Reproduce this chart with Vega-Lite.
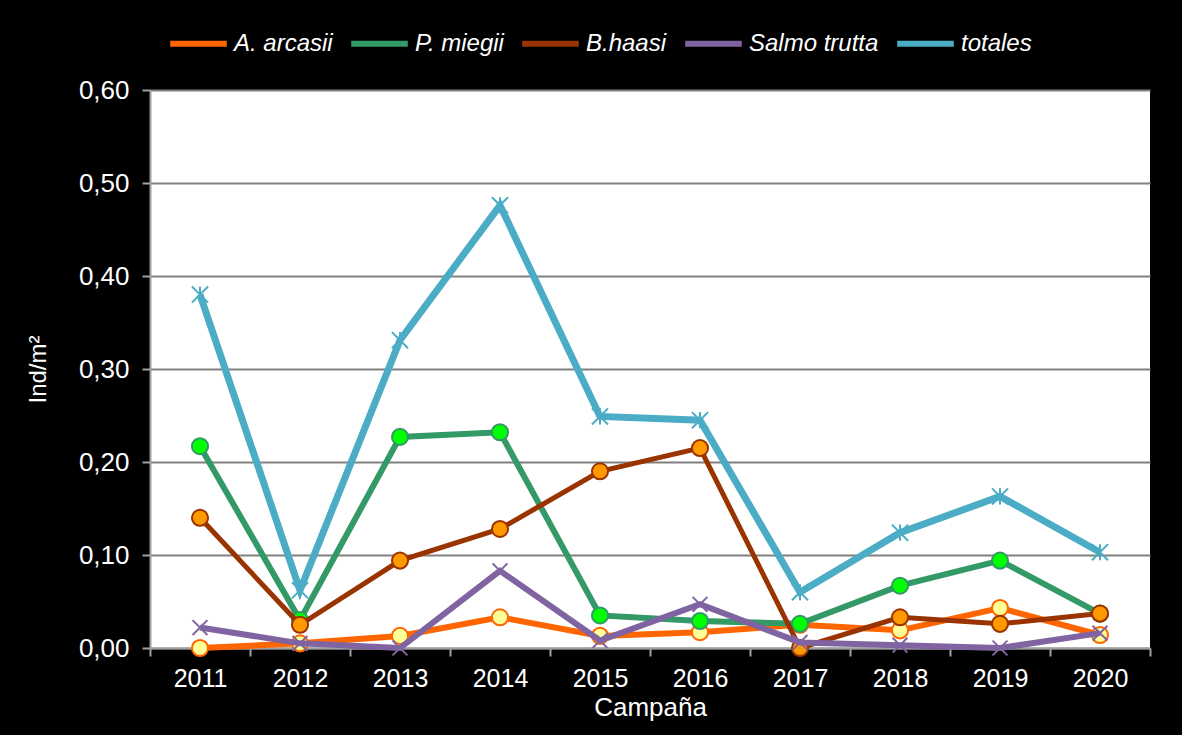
{
  "$schema": "https://vega.github.io/schema/vega-lite/v6.json",
  "width": 1000,
  "height": 558,
  "autosize": {"type": "none"},
  "padding": {"left": 150, "top": 90, "right": 32, "bottom": 87},
  "background": "black",
  "config": {
    "font": "Liberation Sans",
    "view": {"fill": "white", "stroke": null},
    "axis": {"labelColor": "white", "titleColor": "white", "labelFont": "Liberation Sans", "titleFont": "Liberation Sans", "titleFontWeight": "normal", "domainColor": "#a0a0a0", "tickColor": "#a0a0a0", "domainWidth": 2, "tickWidth": 2}
  },
  "data": {"values": [
    {"year": "2011", "series": "A. arcasii", "v": 0.0},
    {"year": "2012", "series": "A. arcasii", "v": 0.005},
    {"year": "2013", "series": "A. arcasii", "v": 0.013},
    {"year": "2014", "series": "A. arcasii", "v": 0.033},
    {"year": "2015", "series": "A. arcasii", "v": 0.013},
    {"year": "2016", "series": "A. arcasii", "v": 0.017},
    {"year": "2017", "series": "A. arcasii", "v": 0.025},
    {"year": "2018", "series": "A. arcasii", "v": 0.019},
    {"year": "2019", "series": "A. arcasii", "v": 0.043},
    {"year": "2020", "series": "A. arcasii", "v": 0.014},
    {"year": "2011", "series": "P. miegii", "v": 0.217},
    {"year": "2012", "series": "P. miegii", "v": 0.03},
    {"year": "2013", "series": "P. miegii", "v": 0.227},
    {"year": "2014", "series": "P. miegii", "v": 0.232},
    {"year": "2015", "series": "P. miegii", "v": 0.035},
    {"year": "2016", "series": "P. miegii", "v": 0.029},
    {"year": "2017", "series": "P. miegii", "v": 0.026},
    {"year": "2018", "series": "P. miegii", "v": 0.067},
    {"year": "2019", "series": "P. miegii", "v": 0.094},
    {"year": "2020", "series": "P. miegii", "v": 0.037},
    {"year": "2011", "series": "B.haasi", "v": 0.14},
    {"year": "2012", "series": "B.haasi", "v": 0.025},
    {"year": "2013", "series": "B.haasi", "v": 0.094},
    {"year": "2014", "series": "B.haasi", "v": 0.128},
    {"year": "2015", "series": "B.haasi", "v": 0.19},
    {"year": "2016", "series": "B.haasi", "v": 0.215},
    {"year": "2017", "series": "B.haasi", "v": 0.0},
    {"year": "2018", "series": "B.haasi", "v": 0.033},
    {"year": "2019", "series": "B.haasi", "v": 0.026},
    {"year": "2020", "series": "B.haasi", "v": 0.037},
    {"year": "2011", "series": "Salmo trutta", "v": 0.022},
    {"year": "2012", "series": "Salmo trutta", "v": 0.005},
    {"year": "2013", "series": "Salmo trutta", "v": 0.0},
    {"year": "2014", "series": "Salmo trutta", "v": 0.083},
    {"year": "2015", "series": "Salmo trutta", "v": 0.008},
    {"year": "2016", "series": "Salmo trutta", "v": 0.047},
    {"year": "2017", "series": "Salmo trutta", "v": 0.006},
    {"year": "2018", "series": "Salmo trutta", "v": 0.003},
    {"year": "2019", "series": "Salmo trutta", "v": 0.0},
    {"year": "2020", "series": "Salmo trutta", "v": 0.016},
    {"year": "2011", "series": "totales", "v": 0.38},
    {"year": "2012", "series": "totales", "v": 0.062},
    {"year": "2013", "series": "totales", "v": 0.331},
    {"year": "2014", "series": "totales", "v": 0.476},
    {"year": "2015", "series": "totales", "v": 0.249},
    {"year": "2016", "series": "totales", "v": 0.245},
    {"year": "2017", "series": "totales", "v": 0.06},
    {"year": "2018", "series": "totales", "v": 0.124},
    {"year": "2019", "series": "totales", "v": 0.163},
    {"year": "2020", "series": "totales", "v": 0.103}
  ]},
  "encoding": {
    "x": {"field": "year", "type": "ordinal", "scale": {"paddingInner": 0, "paddingOuter": 0},
      "axis": {"title": "Campaña", "titleFontSize": 26, "titlePadding": 3, "labelFontSize": 25, "labelAngle": 0, "labelPadding": 10, "tickBand": "extent", "tickSize": 8, "grid": false}},
    "y": {"field": "v", "type": "quantitative", "scale": {"domain": [0, 0.6]},
      "axis": {"title": "Ind/m²", "titleFontSize": 24, "titlePadding": 28, "labelFontSize": 26, "labelPadding": 13, "tickSize": 8, "values": [0, 0.1, 0.2, 0.3, 0.4, 0.5, 0.6], "labelExpr": "replace(format(datum.value, '.2f'), '.', ',')", "grid": true, "gridColor": "#808080", "gridWidth": 2}}
  },
  "layer": [
    {"transform": [{"filter": "datum.series === 'A. arcasii'"}], "mark": {"type": "line", "strokeWidth": 6}, "encoding": {"color": {"field": "series", "type": "nominal"}}},
    {"transform": [{"filter": "datum.series === 'A. arcasii'"}], "mark": {"type": "point", "shape": "circle", "filled": true, "fill": "#FFFF99", "stroke": "#FF6600", "strokeWidth": 2, "size": 260, "opacity": 1}},
    {"transform": [{"filter": "datum.series === 'P. miegii'"}], "mark": {"type": "line", "strokeWidth": 6}, "encoding": {"color": {"field": "series", "type": "nominal"}}},
    {"transform": [{"filter": "datum.series === 'P. miegii'"}], "mark": {"type": "point", "shape": "circle", "filled": true, "fill": "#00FF00", "stroke": "#339966", "strokeWidth": 2, "size": 260, "opacity": 1}},
    {"transform": [{"filter": "datum.series === 'B.haasi'"}], "mark": {"type": "line", "strokeWidth": 5}, "encoding": {"color": {"field": "series", "type": "nominal"}}},
    {"transform": [{"filter": "datum.series === 'B.haasi'"}], "mark": {"type": "point", "shape": "circle", "filled": true, "fill": "#FF9900", "stroke": "#993300", "strokeWidth": 2, "size": 260, "opacity": 1}},
    {"transform": [{"filter": "datum.series === 'Salmo trutta'"}], "mark": {"type": "line", "strokeWidth": 6}, "encoding": {"color": {"field": "series", "type": "nominal"}}},
    {"transform": [{"filter": "datum.series === 'Salmo trutta'"}], "mark": {"type": "point", "shape": "M-1,-1L1,1M-1,1L1,-1", "filled": false, "stroke": "#8064A2", "strokeWidth": 2, "size": 220, "opacity": 1}},
    {"transform": [{"filter": "datum.series === 'totales'"}], "mark": {"type": "line", "strokeWidth": 7}, "encoding": {"color": {"field": "series", "type": "nominal",
      "scale": {"domain": ["A. arcasii", "P. miegii", "B.haasi", "Salmo trutta", "totales"], "range": ["#FF6600", "#339966", "#993300", "#8064A2", "#4BACC6"]},
      "legend": {"orient": "none", "legendX": 17, "legendY": -78, "direction": "horizontal", "title": null, "symbolType": "stroke", "symbolStrokeWidth": 6, "symbolSize": 3200, "labelColor": "white", "labelFontSize": 24, "labelFontStyle": "italic", "labelFont": "Liberation Sans", "columnPadding": 6, "labelOffset": 4}}}},
    {"transform": [{"filter": "datum.series === 'totales'"}], "mark": {"type": "point", "shape": "M-1,-1L1,1M-1,1L1,-1M0,-1L0,1", "filled": false, "stroke": "#4BACC6", "strokeWidth": 2, "size": 260, "opacity": 1}}
  ]
}
